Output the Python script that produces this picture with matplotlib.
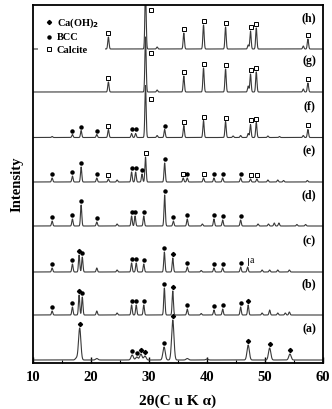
import numpy as np
import matplotlib
matplotlib.use("Agg")
import matplotlib.pyplot as plt
from matplotlib.lines import Line2D
from matplotlib.ticker import MultipleLocator

plt.rcParams["font.family"] = ["Liberation Serif", "DejaVu Serif"]
plt.rcParams["font.weight"] = "bold"
plt.rcParams["axes.linewidth"] = 1.3

# peak positions (2theta) and heights
a_pos = [17.5, 18.05, 21.0, 27.1, 27.9, 28.6, 29.3, 32.6, 34.1, 36.6, 40.0, 47.1, 50.8, 54.3]
a_hgt = [2, 32, 1.5, 5, 3, 6, 4, 13, 40, 1.5, 1, 15, 12, 6]
a_ch = [18.05, 28.6, 29.3, 34.1, 47.1, 50.8, 54.3]
a_bcc = [27.1, 27.9, 32.6]
a_cal = []

b_pos = [13.3, 16.8, 17.95, 18.5, 21.0, 24.5, 27.0, 27.8, 29.1, 32.65, 34.1, 36.6, 39.0,
         41.2, 42.7, 45.8, 47.1, 49.5, 50.8, 52.2, 53.5, 54.2]
b_hgt = [4, 8, 20, 18, 4, 2, 10, 10, 10, 27, 24, 6, 1.5, 5, 6, 8, 10, 2, 5, 2, 2, 3]
b_ch = [17.95, 34.1, 47.1]
b_bcc = [13.3, 16.8, 18.5, 27.0, 27.8, 29.1, 32.65, 36.6, 41.2, 42.7, 45.8]
b_cal = []

c_pos = [13.3, 16.8, 17.95, 18.5, 21.0, 24.5, 27.0, 27.8, 29.1, 32.65, 34.1, 36.6, 39.0,
         41.2, 42.7, 45.8, 47.0, 49.5, 50.8, 52.2, 54.2]
c_hgt = [4, 8, 17, 15, 4, 2, 9, 9, 8, 20, 14, 5, 1.5, 4, 4, 5, 5, 2, 2, 2, 2]
c_ch = [17.95, 34.1]
c_bcc = [13.3, 16.8, 18.5, 27.0, 27.8, 29.1, 32.65, 36.6, 41.2, 42.7, 45.8]
c_cal = []

d_pos = [13.3, 16.8, 18.3, 21.0, 24.5, 27.0, 27.6, 29.1, 32.7, 34.2, 36.6, 39.2, 41.2,
         42.7, 45.8, 48.8, 50.6, 51.6, 52.4, 55.5, 57.0]
d_hgt = [5, 7, 21, 4, 2, 10, 10, 10, 31, 5, 7, 2, 7, 6, 6, 2, 2, 3, 3, 1.5, 1.5]
d_ch = []
d_bcc = [13.3, 16.8, 18.3, 21.0, 27.0, 27.6, 29.1, 32.7, 34.2, 36.6, 41.2, 42.7, 45.8]
d_cal = []

e_pos = [13.3, 16.8, 18.3, 21.0, 23.0, 24.5, 27.0, 27.7, 28.8, 29.4, 32.7, 35.9, 36.6,
         39.4, 41.2, 42.7, 45.8, 47.5, 48.6, 50.5, 52.2, 53.2, 57.3]
e_hgt = [4, 6, 15, 4, 3, 2, 10, 10, 8, 25, 19, 4, 4, 4, 4, 4, 4, 3, 3, 2, 2, 1.5, 1.5]
e_ch = []
e_bcc = [13.3, 16.8, 18.3, 21.0, 27.0, 27.7, 28.8, 32.7, 36.6, 41.2, 42.7, 45.8]
e_cal = [23.0, 29.4, 35.9, 39.4, 47.5, 48.6]

f_pos = [13.3, 16.8, 18.3, 21.0, 23.0, 27.0, 27.7, 29.4, 31.4, 32.7, 36.0, 39.4, 43.2,
         44.5, 45.8, 47.1, 47.5, 48.5, 50.5, 52.5, 56.6, 57.4]
f_hgt = [1, 3, 7, 3, 8, 4, 4, 52, 2, 8, 12, 17, 16, 1.5, 2, 4, 13, 15, 1.5, 1, 2, 8]
f_ch = []
f_bcc = [16.8, 18.3, 21.0, 27.0, 27.7, 32.7]
f_cal = [23.0, 29.4, 36.0, 39.4, 43.2, 47.5, 48.5, 57.4]

g_pos = [23.0, 29.4, 31.4, 36.0, 39.4, 43.2, 47.1, 47.5, 48.5, 56.6, 57.4]
g_hgt = [10, 55, 2, 16, 24, 23, 6, 18, 20, 3, 9]
g_ch = []
g_bcc = []
g_cal = [23.0, 29.4, 36.0, 39.4, 43.2, 47.5, 48.5, 57.4]

h_pos = [23.0, 29.4, 31.4, 36.0, 39.4, 43.2, 47.1, 47.5, 48.5, 56.6, 57.4]
h_hgt = [12, 60, 2, 16, 24, 22, 4, 18, 21, 3, 10]
h_ch = []
h_bcc = []
h_cal = [23.0, 29.4, 36.0, 39.4, 43.2, 47.5, 48.5, 57.4]

labels = ["(a)", "(b)", "(c)", "(d)", "(e)", "(f)", "(g)", "(h)"]
offsets = [3, 48, 91, 137, 181, 225.5, 271, 314]
patterns = [
    (a_pos, a_hgt, a_ch, a_bcc, a_cal),
    (b_pos, b_hgt, b_ch, b_bcc, b_cal),
    (c_pos, c_hgt, c_ch, c_bcc, c_cal),
    (d_pos, d_hgt, d_ch, d_bcc, d_cal),
    (e_pos, e_hgt, e_ch, e_bcc, e_cal),
    (f_pos, f_hgt, f_ch, f_bcc, f_cal),
    (g_pos, g_hgt, g_ch, g_bcc, g_cal),
    (h_pos, h_hgt, h_ch, h_bcc, h_cal),
]
note_c = 47.0  # the small "a" mark on pattern (c)

x = np.linspace(10, 60, 3001)


def trace(pos, hgt, width):
    y = np.zeros_like(x)
    for p, h in zip(pos, hgt):
        y += h * np.exp(-0.5 * ((x - p) / width) ** 2)
    return y


def marker_xy(xs, y, base):
    mx, my = [], []
    for p in xs:
        top = np.interp(p, x, y)
        if top > 42:  # very tall peaks: marker sits beside the line
            mx.append(p + 1.0)
            my.append(base + 39)
        else:
            mx.append(p)
            my.append(base + top + 4)
    return mx, my


fig = plt.figure(figsize=(3.32, 4.09), dpi=100)
ax = fig.add_axes([33 / 332, 1 - 363 / 409, 290 / 332, 358 / 409])

lc = "#3a3a3a"
for i, (pos, hgt, ch, bcc, cal) in enumerate(patterns):
    w = 0.2 if i == 0 else 0.11
    y = trace(pos, hgt, w)
    base = offsets[i]
    ax.plot(x, base + y, color=lc, lw=0.8)
    mx, my = marker_xy(ch, y, base)
    ax.plot(mx, my, ls="none", marker="D", ms=2.1, color="k")
    mx, my = marker_xy(bcc, y, base)
    ax.plot(mx, my, ls="none", marker="o", ms=2.2, color="k")
    mx, my = marker_xy(cal, y, base)
    ax.plot(mx, my, ls="none", marker="s", ms=3.2, mfc="white", mec="k", mew=0.7)
    ax.text(57.6, base + 31, labels[i], ha="center", va="center", fontsize=8.5, fontweight="bold")
    if i == 2:
        yc = base + np.interp(note_c, x, y)
        ax.plot([note_c, note_c], [yc + 2, yc + 9], color="k", lw=0.6)
        ax.text(note_c + 0.3, yc + 2, "a", fontsize=7, fontweight="normal", va="bottom")

ax.set_xlim(10, 60)
ax.set_ylim(0, 358)
ax.xaxis.set_major_locator(MultipleLocator(10))
ax.xaxis.set_minor_locator(MultipleLocator(5))
ax.tick_params(axis="x", which="major", direction="in", length=4, width=1, pad=6, labelsize=10.5)
ax.tick_params(axis="x", which="minor", direction="in", length=2.5, width=0.8)
ax.set_yticks([])
ax.set_xlabel("2θ(C u K α)", fontsize=11, fontweight="bold", labelpad=7)
ax.set_ylabel("Intensity", fontsize=10.5, fontweight="bold", labelpad=7)

handles = [
    Line2D([], [], ls="none", marker="D", ms=2.1, color="k"),
    Line2D([], [], ls="none", marker="o", ms=2.2, color="k"),
    Line2D([], [], ls="none", marker="s", ms=3.2, mfc="white", mec="k", mew=0.7),
]
leg = ax.legend(handles, ["Ca(OH)$_2$", "BCC", "Calcite"], loc="upper left",
                bbox_to_anchor=(0.0, 1.0), fontsize=7.5, frameon=True, facecolor="white",
                edgecolor="none", framealpha=1, fancybox=False, handlelength=0.8,
                handletextpad=0.4, labelspacing=0.3, borderpad=0.6)

fig.savefig("out.png", dpi=100)
